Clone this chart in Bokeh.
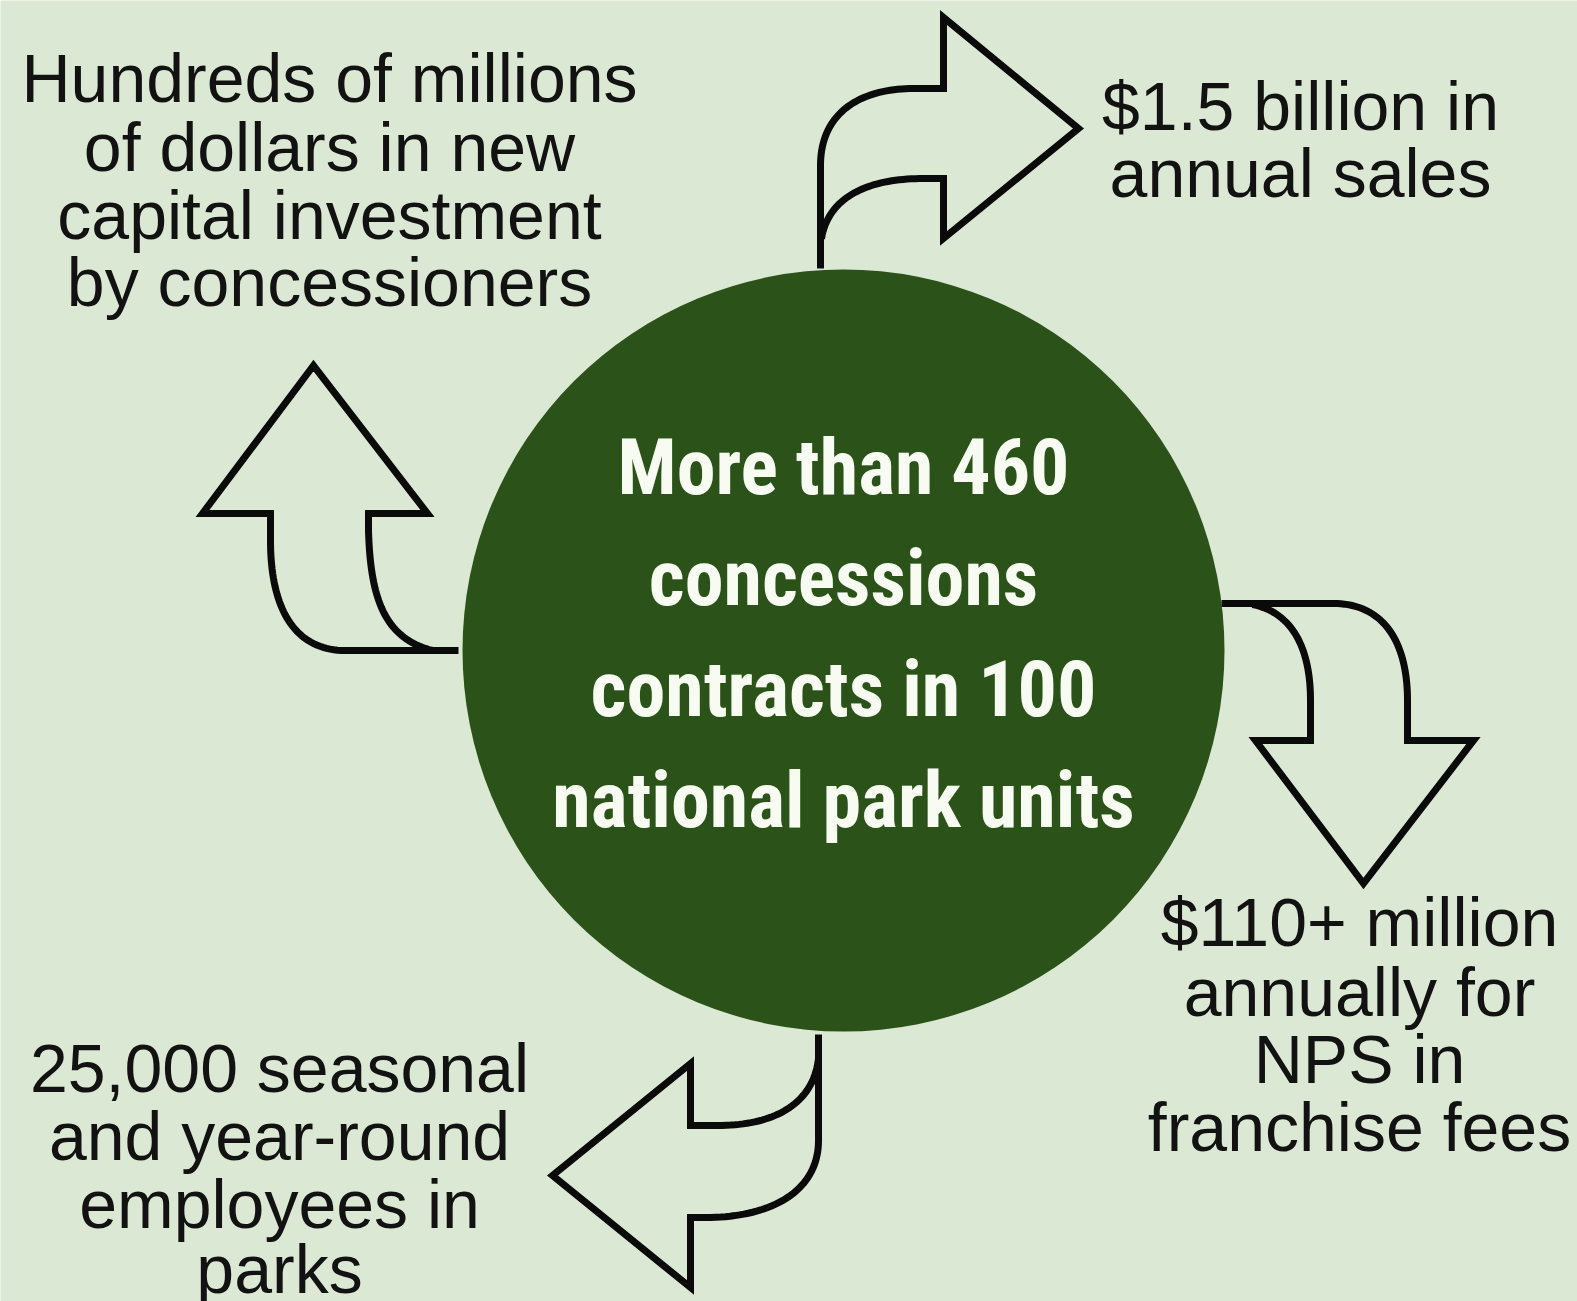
import numpy as np
from bokeh.plotting import figure
from bokeh.models import Range1d, ColumnDataSource
from bokeh.core.properties import value
from bokeh.embed import file_html
from bokeh.resources import INLINE

# ---------------- data ----------------
BG = "#dbe8d3"
DARK = "#2b5219"

center_lines = ["More than 460", "concessions", "contracts in 100", "national park units"]
center_x = 843
center_y = [494, 605, 716, 827]      # visual baselines

tl_lines = ["Hundreds of millions", "of dollars in new", "capital investment", "by concessioners"]
tl_x = 329
tl_y = [101, 170, 238, 305]

tr_lines = ["$1.5 billion in", "annual sales"]
tr_x = 1300
tr_y = [129, 196]

br_lines = ["$110+ million", "annually for", "NPS in", "franchise fees"]
br_x = 1359
br_y = [945, 1015, 1082, 1150]

bl_lines = ["25,000 seasonal", "and year-round", "employees in", "parks"]
bl_x = 279
bl_y = [1091, 1159, 1227, 1292]

hub_x = [843]
hub_y = [650]
hub_r = 381

# arrow outlines (path commands in page pixels)
top_arrow = [("M", (820, 268)), ("L", (820, 165)), ("C", (820, 112), (860, 88), (913, 88)),
             ("L", (943, 88)), ("L", (943, 17)), ("L", (1078, 128)), ("L", (943, 238)),
             ("L", (943, 178)), ("L", (923, 178)), ("C", (868, 178), (828, 196), (821, 238))]
left_arrow = [("M", (458, 650)), ("L", (345, 650)), ("C", (292, 650), (270, 605), (270, 540)),
              ("L", (270, 513)), ("L", (202, 513)), ("L", (313, 365)), ("L", (427, 513)),
              ("L", (368, 513)), ("L", (368, 530)), ("C", (370, 600), (385, 638), (432, 650))]
right_arrow = [("M", (1221, 603)), ("L", (1333, 603)), ("C", (1382, 603), (1407, 640), (1407, 700)),
               ("L", (1407, 740)), ("L", (1473, 740)), ("L", (1363, 883)), ("L", (1255, 740)),
               ("L", (1310, 740)), ("L", (1310, 700)), ("C", (1310, 648), (1292, 612), (1252, 604))]
bottom_arrow = [("M", (818, 1034)), ("L", (818, 1140)), ("C", (818, 1190), (772, 1217), (705, 1217)),
                ("L", (690, 1217)), ("L", (690, 1287)), ("L", (552, 1175)), ("L", (690, 1063)),
                ("L", (690, 1125)), ("L", (717, 1125)), ("C", (776, 1125), (813, 1102), (818, 1058))]
arrows = [top_arrow, left_arrow, right_arrow, bottom_arrow]

OUTER_SIZE = 68
CENTER_SIZE = 78
BASELINE_SHIFT = 0.34   # Bokeh draws the alphabetic baseline this many em lower


def build_path(cmds, n=40):
    xs, ys = [], []
    cur = None
    for c in cmds:
        if c[0] in ("M", "L"):
            cur = np.array(c[1], dtype=float)
            xs.append(cur[0]); ys.append(cur[1])
        else:
            p0 = cur
            p1, p2, p3 = (np.array(q, dtype=float) for q in c[1:])
            t = np.linspace(0, 1, n)[1:, None]
            pts = ((1 - t) ** 3) * p0 + 3 * ((1 - t) ** 2) * t * p1 + 3 * (1 - t) * t ** 2 * p2 + t ** 3 * p3
            xs.extend(pts[:, 0].tolist()); ys.extend(pts[:, 1].tolist())
            cur = p3
    return xs, ys


W, H = 1577, 1301
p = figure(width=W, height=H, output_backend="svg", toolbar_location=None,
           x_range=Range1d(0, W), y_range=Range1d(H, 0),
           x_axis_location=None, y_axis_location=None, min_border=0)
p.grid.visible = False
p.outline_line_color = None
p.background_fill_color = BG
p.border_fill_color = BG

p.circle(x=hub_x, y=hub_y, radius=hub_r, fill_color=DARK, line_color=None)

for a in arrows:
    xs, ys = build_path(a)
    p.line(xs, ys, line_color="#0a0a0a", line_width=7, line_join="miter", line_cap="butt")

outer_font = value("Liberation Sans")
for lines, x, ys in [(tl_lines, tl_x, tl_y), (tr_lines, tr_x, tr_y),
                     (br_lines, br_x, br_y), (bl_lines, bl_x, bl_y)]:
    yy = [v - BASELINE_SHIFT * OUTER_SIZE for v in ys]
    src = ColumnDataSource(dict(x=[x] * len(lines), y=yy, t=lines))
    p.text(x="x", y="y", text="t", source=src, text_font=outer_font,
           text_font_size=f"{OUTER_SIZE}px", text_color="#121212", text_align="center",
           text_baseline="alphabetic")

cy = [v - BASELINE_SHIFT * CENTER_SIZE for v in center_y]
csrc = ColumnDataSource(dict(x=[center_x] * len(center_lines), y=cy, t=center_lines))
p.text(x="x", y="y", text="t", source=csrc,
       text_font=value("'Roboto Condensed', 'Liberation Sans Narrow', Lato"),
       text_font_style="bold",
       text_font_size=f"{CENTER_SIZE}px", text_color="#f7fbf2", text_align="center",
       text_baseline="alphabetic")

html = file_html(p, INLINE)
html = html.replace("<body>", f'<body style="background-color:{BG};">', 1)
open("out.html", "w").write(html)
